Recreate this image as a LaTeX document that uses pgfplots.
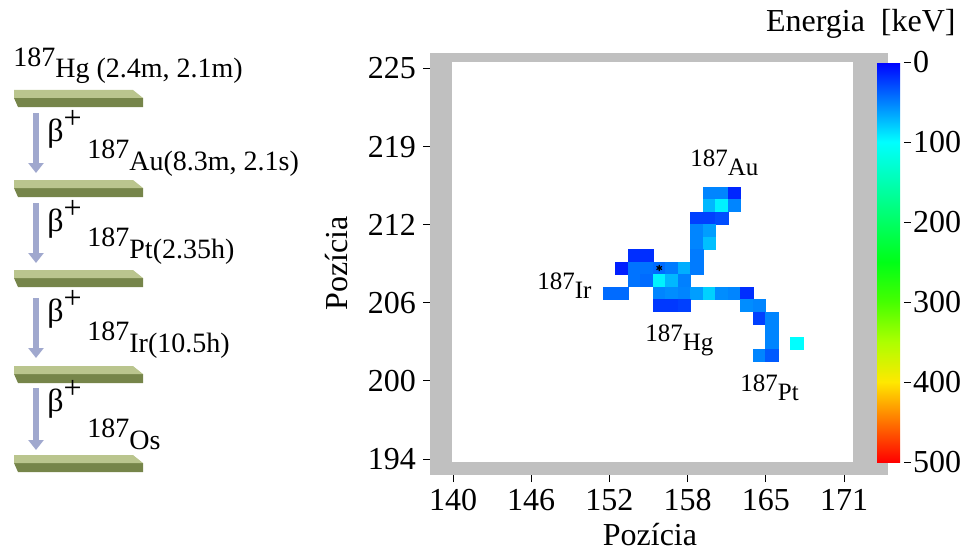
\documentclass[border=0pt]{standalone}
\usepackage{fontspec}
\setmainfont{Liberation Serif}
\usepackage{pgfplots}
\pgfplotsset{compat=1.18}
\usetikzlibrary{arrows.meta}
\definecolor{cbgray}{RGB}{192,192,192}
\definecolor{olivelight}{RGB}{186,197,142}
\definecolor{olivedark}{RGB}{118,133,74}
\definecolor{arrowc}{RGB}{160,168,206}
\newcommand\dfont{\fontsize{14}{16}\selectfont}
\newcommand\hfont{\fontsize{12.5}{14}\selectfont}
\newcommand\tfont{\fontsize{16}{18}\selectfont}
\pgfplotsset{colormap={mycm}{rgb255=(0,0,255) rgb255=(0,128,255) rgb255=(0,255,255) rgb255=(0,255,178) rgb255=(0,255,100) rgb255=(0,255,23) rgb255=(70,255,0) rgb255=(173,255,0) rgb255=(255,232,0) rgb255=(255,116,0) rgb255=(255,0,0)}}
\begin{document}
\begin{tikzpicture}
\path[use as bounding box] (0,0) rectangle (481pt,-275.5pt);
\begin{axis}[
  at={(215pt,-237.5pt)}, anchor=south west,
  x=6.25pt, y=6.25pt,
  xmin=137.66, xmax=174.3, ymin=192.44, ymax=226.2,
  axis background/.style={fill=cbgray},
  axis line style={draw=none},
  tick align=outside, tick pos=left,
  major tick length=3.5pt,
  every tick/.style={black, line width=0.5pt},
  xtick={139.5,145.756,152.012,158.268,164.524,170.78},
  xticklabels={140,146,152,158,165,171},
  ytick={193.72,199.968,206.216,212.464,218.712,224.96},
  yticklabels={194,200,206,212,219,225},
  tick label style={font=\tfont},
  xlabel={Pozícia}, ylabel={Pozícia},
  label style={font=\tfont},
  xlabel style={at={(axis description cs:0.4803,-0.142)}, anchor=center},
  ylabel style={at={(axis description cs:-0.203,0.502)}, anchor=center},
  colormap name=mycm,
  point meta min=0, point meta max=500,
  colorbar,
  colorbar style={
    at={(parent axis.south east)}, anchor=south east,
    xshift=-2.5pt, yshift=6.5pt,
    scale only axis, width=11.5pt, height=200pt,
    y dir=reverse,
    ytick={0,100,200,300,400,500},
    yticklabels={0,100,200,300,400,500},
    axis line style={draw=none},
    tick align=outside, major tick length=3.5pt,
    ytick pos=right, yticklabel pos=right,
    every tick/.style={black, line width=0.5pt},
    ytick style={xshift=2pt},
    yticklabel style={font=\tfont, xshift=-0.5pt},
  },
]
\fill[white] (axis cs:139.42,193.48) rectangle (axis cs:171.5,225.48);
\addplot[scatter, only marks, mark=square*, mark size=3.05pt,
  mark options={line width=0.2pt},
  scatter/use mapped color={draw=mapped color, fill=mapped color},
  point meta=explicit] table[meta=v] {
x y v
160 215 52
161 215 52
162 215 15
160 214 72
161 214 95
162 214 52
159 213 25
160 213 25
161 213 30
159 212 52
160 212 62
159 211 52
160 211 75
154 210 18
155 210 18
159 210 48
153 209 12
154 209 45
155 209 45
156 209 42
157 209 48
158 209 68
159 209 48
154 208 45
155 208 42
156 208 95
157 208 72
158 208 50
152 207 42
153 207 42
156 207 52
157 207 55
158 207 52
159 207 62
160 207 82
161 207 55
162 207 52
163 207 18
156 206 22
157 206 22
158 206 25
163 206 55
164 206 52
164 205 25
165 205 52
165 204 52
165 203 52
167 203 100
164 202 52
165 202 35
};
\addplot[only marks, mark=asterisk, mark size=1.6pt, black, line width=0.6pt] coordinates {(156,209)};
\end{axis}
\begin{scope}[x=0.5pt,y=-0.5pt]
  \foreach \t in {90,180,270,366,455} {
    \fill[olivedark] (14,\t+8) -- (143,\t+8) -- (143,\t+17) -- (18,\t+17) -- cycle;
    \fill[olivelight] (14,\t) -- (133,\t) -- (143,\t+8) -- (14,\t+8) -- cycle;
  }
  \foreach \a/\b in {113/173, 203/263, 298/358, 388/450}
    \draw[arrowc, line width=3pt, -{Triangle[width=7.5pt,length=5pt]}] (36,\a) -- (36,\b);
  \node[anchor=base west, inner sep=0] at (13,78) {\dfont\raisebox{0.4em}{187}Hg (2.4m, 2.1m)};
  \node[anchor=base west, inner sep=0] at (47,141) {\tfont β\raisebox{0.38em}{+}};
  \node[anchor=base west, inner sep=0] at (87,170) {\dfont\raisebox{0.4em}{187}Au(8.3m, 2.1s)};
  \node[anchor=base west, inner sep=0] at (47,231) {\tfont β\raisebox{0.38em}{+}};
  \node[anchor=base west, inner sep=0] at (87,258) {\dfont\raisebox{0.4em}{187}Pt(2.35h)};
  \node[anchor=base west, inner sep=0] at (47,321) {\tfont β\raisebox{0.38em}{+}};
  \node[anchor=base west, inner sep=0] at (87,352) {\dfont\raisebox{0.4em}{187}Ir(10.5h)};
  \node[anchor=base west, inner sep=0] at (47,411) {\tfont β\raisebox{0.38em}{+}};
  \node[anchor=base west, inner sep=0] at (87,449) {\dfont\raisebox{0.4em}{187}Os};
  \node[anchor=base west, inner sep=0] at (690,175) {\hfont\raisebox{0.35em}{187}Au};
  \node[anchor=base west, inner sep=0] at (537,298) {\hfont\raisebox{0.35em}{187}Ir};
  \node[anchor=base west, inner sep=0] at (645,350) {\hfont\raisebox{0.35em}{187}Hg};
  \node[anchor=base west, inner sep=0] at (740,400) {\hfont\raisebox{0.35em}{187}Pt};
  \node[anchor=base east, inner sep=0] at (956,32) {\tfont Energia\ \ [keV]};
\end{scope}
\end{tikzpicture}
\end{document}
